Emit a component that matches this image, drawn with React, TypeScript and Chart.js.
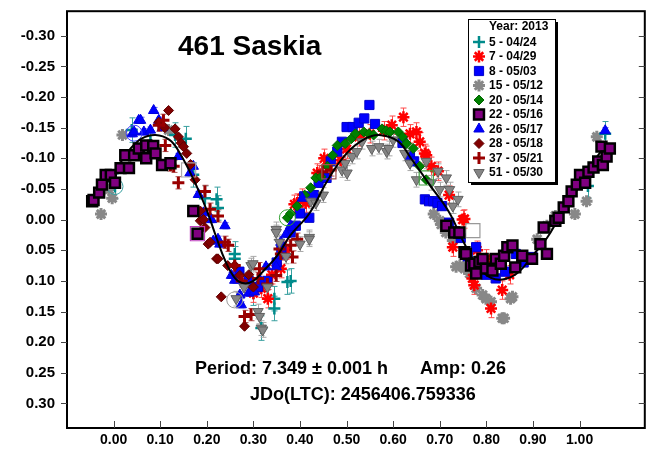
import React, { useEffect, useRef } from 'react';
import { Chart, registerables } from 'chart.js';
import { drawPoint } from 'chart.js/helpers';

Chart.register(...registerables);

// ---------- DATA ----------
const xTickValues = [0.0, 0.1, 0.2, 0.3, 0.4, 0.5, 0.6, 0.7, 0.8, 0.9, 1.0];
const yTickValues = [-0.3, -0.25, -0.2, -0.15, -0.1, -0.05, 0.0, 0.05, 0.1, 0.15, 0.2, 0.25, 0.3];

const titleText = '461 Saskia';
const periodText = 'Period: 7.349 \u00b1 0.001 h';
const ampText = 'Amp: 0.26';
const jdText = 'JDo(LTC): 2456406.759336';
const legendTitle = 'Year: 2013';

const seriesLabels = [
  '5 - 04/24', '7 - 04/29', '8 - 05/03', '15 - 05/12', '20 - 05/14',
  '22 - 05/16', '26 - 05/17', '28 - 05/18', '37 - 05/21', '51 - 05/30',
];
// constant error-bar half-length per series (mag)
const seriesErrors = [0.02, 0.015, 0, 0, 0, 0, 0.005, 0, 0.01, 0.012];

// [phase, mag]
const s05: number[][] = [
  [0.003, -0.054], [0.039, -0.146], [0.079, -0.127], [0.132, -0.138], [0.155, -0.132],
  [0.171, -0.073], [0.196, -0.035], [0.221, -0.033], [0.224, -0.019], [0.26, 0.056],
  [0.26, 0.064], [0.30, 0.12], [0.317, 0.177], [0.345, 0.129], [0.345, 0.145],
  [0.373, 0.102], [0.38, 0.1], [1.018, -0.055], [1.055, -0.14],
];
const s07: number[][] = [
  [0.288, 0.102], [0.30, 0.12], [0.317, 0.112], [0.331, 0.129], [0.34, 0.09], [0.359, 0.08],
  [0.37, 0.05], [0.388, -0.025], [0.394, -0.027], [0.405, -0.035], [0.412, -0.027],
  [0.437, -0.076], [0.441, -0.073], [0.452, -0.1], [0.46, -0.09], [0.487, -0.097],
  [0.5, -0.115], [0.526, -0.135], [0.55, -0.14], [0.58, -0.145], [0.597, -0.154],
  [0.622, -0.167], [0.636, -0.14], [0.65, -0.143], [0.657, -0.127], [0.668, -0.108],
  [0.671, -0.105], [0.682, -0.087], [0.696, -0.079], [0.72, -0.04], [0.728, 0.045],
  [0.749, 0.0], [0.753, -0.001], [0.77, 0.096], [0.774, 0.107], [0.78, 0.05],
  [0.8, 0.064], [0.81, 0.145], [0.834, 0.115], [0.85, 0.09],
];
const s08: number[][] = [
  [0.27, 0.085], [0.29, 0.1], [0.31, 0.11], [0.33, 0.1], [0.35, 0.07], [0.36, 0.05],
  [0.38, 0.021], [0.391, 0.01], [0.4, -0.01], [0.409, -0.038], [0.42, -0.003],
  [0.43, -0.04], [0.44, -0.06], [0.457, -0.068], [0.466, -0.095], [0.48, -0.111],
  [0.49, -0.127], [0.5, -0.151], [0.513, -0.151], [0.526, -0.158], [0.538, -0.165],
  [0.549, -0.187], [0.561, -0.156], [0.62, -0.125], [0.636, -0.105], [0.645, -0.095],
  [0.668, -0.033], [0.677, -0.03], [0.686, -0.03], [0.695, -0.027], [0.705, -0.022],
  [0.72, 0.005], [0.745, 0.03], [0.76, 0.06], [0.778, 0.045], [0.79, 0.08], [0.8, 0.09],
  [0.82, 0.096], [0.84, 0.085], [0.863, 0.056], [0.88, 0.07], [0.899, 0.061],
];
const s15: number[][] = [
  [-0.027, -0.009], [-0.01, -0.049], [-0.003, -0.035], [0.019, -0.138], [0.118, -0.146],
  [0.687, -0.009], [0.7, 0.002], [0.703, 0.008], [0.713, 0.021], [0.728, 0.034],
  [0.735, 0.077], [0.743, 0.075], [0.753, 0.08], [0.764, 0.088], [0.778, 0.112],
  [0.792, 0.123], [0.799, 0.129], [0.81, 0.134], [0.834, 0.161], [0.838, 0.161],
  [0.852, 0.129], [0.856, 0.126], [0.909, 0.032], [0.93, 0.01], [0.948, -0.006],
  [0.99, -0.009], [1.015, -0.03], [1.037, -0.135],
];
const s20: number[][] = [
  [0.373, -0.003], [0.38, -0.01], [0.394, -0.022], [0.41, -0.04], [0.423, -0.052],
  [0.434, -0.068], [0.445, -0.07], [0.459, -0.087], [0.47, -0.105], [0.48, -0.121],
  [0.497, -0.124], [0.51, -0.132], [0.519, -0.14], [0.537, -0.143], [0.548, -0.14],
  [0.558, -0.138], [0.576, -0.148], [0.585, -0.145], [0.593, -0.143], [0.611, -0.143],
  [0.62, -0.135], [0.629, -0.124], [0.643, -0.116], [0.657, -0.087], [0.671, -0.065],
];
const s22: number[][] = [
  [-0.046, -0.03], [-0.043, -0.032], [-0.031, -0.044], [-0.025, -0.057], [-0.017, -0.073],
  [-0.006, -0.073], [0.003, -0.06], [0.015, -0.084], [0.025, -0.105], [0.033, -0.084],
  [0.044, -0.105], [0.054, -0.116], [0.07, -0.1], [0.07, -0.121], [0.085, -0.12],
  [0.09, -0.108], [0.104, -0.089], [0.122, -0.092], [0.171, -0.014], [0.18, 0.023],
  [0.714, 0.01], [0.731, 0.021], [0.742, 0.021], [0.753, 0.053], [0.756, 0.056],
  [0.767, 0.075], [0.774, 0.072], [0.778, 0.088], [0.785, 0.069], [0.792, 0.064],
  [0.799, 0.08], [0.813, 0.083], [0.82, 0.064], [0.831, 0.072], [0.838, 0.059],
  [0.845, 0.045], [0.856, 0.042], [0.862, 0.078], [0.877, 0.059], [0.898, 0.064],
  [0.916, 0.04], [0.923, 0.013], [0.93, 0.056], [0.948, 0.002], [0.955, -0.003],
  [0.966, -0.02], [0.976, -0.03], [0.983, -0.046], [0.994, -0.057], [1.001, -0.073],
  [1.012, -0.06], [1.019, -0.078], [1.03, -0.085], [1.04, -0.095], [1.05, -0.089],
  [1.047, -0.119], [1.058, -0.103], [1.065, -0.116],
];
const s26: number[][] = [
  [0.04, -0.14], [0.044, -0.143], [0.054, -0.162], [0.058, -0.162], [0.065, -0.143],
  [0.079, -0.146], [0.086, -0.178], [0.097, -0.162], [0.105, -0.15], [0.139, -0.103],
  [0.164, -0.076], [0.171, -0.087], [0.182, -0.041], [0.193, -0.011], [0.21, 0.0],
  [0.214, 0.035], [0.224, 0.032], [0.228, 0.04], [0.239, 0.01], [0.253, 0.091],
  [0.26, 0.099], [0.271, 0.123], [0.274, 0.139], [0.29, 0.12], [0.302, 0.118],
  [0.315, 0.1], [0.327, 0.077], [0.349, 0.077], [0.356, 0.059], [0.359, 0.037],
  [0.37, 0.024], [0.38, 0.01], [0.384, 0.013], [0.405, -0.035], [1.055, -0.145],
];
const s28: number[][] = [
  [0.097, -0.159], [0.11, -0.15], [0.118, -0.178], [0.132, -0.148], [0.139, -0.135],
  [0.145, -0.125], [0.15, -0.119], [0.157, -0.108], [0.165, -0.09], [0.175, -0.065],
  [0.186, -0.014], [0.186, 0.002], [0.193, 0.0], [0.196, 0.013], [0.203, 0.04],
  [0.207, 0.037], [0.221, 0.064], [0.224, 0.064], [0.231, 0.126], [0.245, 0.075],
  [0.26, 0.075], [0.271, 0.091], [0.281, 0.174], [0.29, 0.09], [0.3, 0.11],
];
const s37: number[][] = [
  [0.097, -0.154], [0.107, -0.162], [0.111, -0.121], [0.122, -0.089], [0.129, -0.087],
  [0.139, -0.06], [0.196, -0.046], [0.207, -0.017], [0.224, -0.006], [0.239, 0.037],
  [0.246, 0.042], [0.26, 0.075], [0.275, 0.1], [0.281, 0.158], [0.295, 0.155],
  [0.31, 0.096], [0.313, 0.08], [0.33, 0.105], [0.349, 0.091], [0.356, 0.048],
  [0.359, 0.056], [0.38, 0.042], [0.384, 0.061], [0.394, 0.032], [0.448, -0.078],
  [0.466, -0.081],
];
const s51: number[][] = [
  [0.263, 0.129], [0.28, 0.11], [0.295, 0.075], [0.299, 0.072], [0.31, 0.15],
  [0.313, 0.158], [0.317, 0.177], [0.32, 0.18], [0.33, 0.11], [0.349, 0.016],
  [0.349, 0.021], [0.356, 0.037], [0.37, 0.06], [0.4, 0.04], [0.42, 0.029],
  [0.42, 0.032], [0.423, -0.03], [0.434, -0.027], [0.45, -0.04], [0.49, -0.081],
  [0.497, -0.092], [0.501, -0.076], [0.512, -0.103], [0.522, -0.111], [0.533, -0.127],
  [0.554, -0.116], [0.569, -0.119], [0.586, -0.111], [0.59, -0.116], [0.6, -0.13],
  [0.625, -0.108], [0.636, -0.092], [0.65, -0.065], [0.671, -0.095], [0.682, -0.06],
  [0.696, -0.079], [0.7, -0.049], [0.714, -0.068], [0.721, -0.049], [0.728, -0.022],
  [0.739, -0.033],
];
// fitted Fourier curve
const fitCurve: number[][] = [
  [-0.05, -0.025], [0.0, -0.075], [0.03, -0.11], [0.06, -0.132], [0.09, -0.138],
  [0.12, -0.13], [0.14, -0.111], [0.17, -0.068], [0.2, -0.015], [0.22, 0.028],
  [0.24, 0.068], [0.26, 0.095], [0.28, 0.104], [0.3, 0.1], [0.32, 0.085],
  [0.35, 0.06], [0.38, 0.025], [0.42, -0.01], [0.46, -0.065], [0.5, -0.108],
  [0.54, -0.132], [0.57, -0.138], [0.61, -0.128], [0.64, -0.098], [0.68, -0.055],
  [0.72, -0.012], [0.75, 0.035], [0.78, 0.075], [0.81, 0.095], [0.84, 0.097],
  [0.87, 0.085], [0.9, 0.058], [0.93, 0.03], [0.96, -0.008], [1.0, -0.055],
  [1.03, -0.095], [1.05, -0.115],
];
// outlined (session-start) markers: circles and squares
const circleMarks: number[][] = [[0.003, -0.054], [0.044, -0.141], [0.373, -0.003], [0.26, 0.131]];
const circleColors = ['#3aa0a0', '#4040ff', '#30a030', '#999999'];
const squareMarks: number[][] = [[0.18, 0.023], [0.462, -0.078], [0.161, -0.081], [0.771, 0.018], [0.671, -0.068]];
const squareColors = ['#c040c0', '#a05050', '#aaaaaa', '#999999', '#40a040'];

const seriesData = [s05, s07, s08, s15, s20, s22, s26, s28, s37, s51];

// ---------- STYLES ----------
const FONT = '"Liberation Sans", Arial, Helvetica, sans-serif';
type Sty = { style: string; radius: number; rotation: number; bg: string; border: string; bw: number; err: string; order: number };
const styles: Sty[] = [
  { style: 'cross', radius: 6, rotation: 0, bg: '#008b8b', border: '#008b8b', bw: 2.5, err: '#3aa0a0', order: 10 },
  { style: 'star', radius: 6, rotation: 0, bg: '#ff0000', border: '#ff0000', bw: 2.5, err: '#ff4a4a', order: 9 },
  { style: 'rect', radius: 6.5, rotation: 0, bg: '#0000ff', border: '#0000cc', bw: 1, err: '#4040ff', order: 8 },
  { style: 'star', radius: 6, rotation: 0, bg: '#888888', border: '#888888', bw: 3, err: '#999999', order: 11 },
  { style: 'rectRot', radius: 5, rotation: 0, bg: '#008000', border: '#006400', bw: 1, err: '#40a040', order: 7 },
  { style: 'rect', radius: 7, rotation: 0, bg: '#800080', border: '#000000', bw: 2.5, err: '#800080', order: 0 },
  { style: 'triangle', radius: 6, rotation: 0, bg: '#0000ff', border: '#0000dd', bw: 1, err: '#5050ff', order: 6 },
  { style: 'rectRot', radius: 5, rotation: 0, bg: '#800000', border: '#600000', bw: 1, err: '#a04040', order: 5 },
  { style: 'cross', radius: 6, rotation: 0, bg: '#990000', border: '#990000', bw: 3, err: '#b05050', order: 4 },
  { style: 'triangle', radius: 6, rotation: 180, bg: '#858585', border: '#606060', bw: 1, err: '#a8a8a8', order: 3 },
];

const overlayPlugin = {
  id: 'overlay',
  beforeDatasetsDraw(chart: any) {
    const ctx = chart.ctx;
    const ys = chart.scales.y;
    ctx.save();
    seriesData.forEach((_, i) => {
      const e = seriesErrors[i];
      if (!e) return;
      const meta = chart.getDatasetMeta(i);
      ctx.strokeStyle = styles[i].err;
      ctx.lineWidth = 1;
      meta.data.forEach((pt: any, j: number) => {
        const v = seriesData[i][j][1];
        const y1 = ys.getPixelForValue(v - e);
        const y2 = ys.getPixelForValue(v + e);
        const x = Math.round(pt.x) + 0.5;
        ctx.beginPath();
        ctx.moveTo(x, y1); ctx.lineTo(x, y2);
        ctx.moveTo(x - 3, y1); ctx.lineTo(x + 3, y1);
        ctx.moveTo(x - 3, y2); ctx.lineTo(x + 3, y2);
        ctx.stroke();
      });
    });
    ctx.restore();
  },
  afterDraw(chart: any) {
    const ctx = chart.ctx;
    const a = chart.chartArea;
    const xs = chart.scales.x;
    const ys = chart.scales.y;
    ctx.save();
    // frame
    ctx.strokeStyle = '#000';
    ctx.lineWidth = 2;
    ctx.strokeRect(a.left, a.top, a.right - a.left, a.bottom - a.top);
    // ticks
    ctx.lineWidth = 1;
    ctx.strokeStyle = '#444';
    ctx.beginPath();
    xTickValues.forEach((v) => {
      const x = Math.round(xs.getPixelForValue(v)) + 0.5;
      ctx.moveTo(x, a.bottom); ctx.lineTo(x, a.bottom - 7);
    });
    yTickValues.forEach((v) => {
      const y = Math.round(ys.getPixelForValue(v)) + 0.5;
      ctx.moveTo(a.left - 6, y); ctx.lineTo(a.left, y);
      ctx.moveTo(a.right, y); ctx.lineTo(a.right - 6, y);
    });
    ctx.stroke();

    // texts
    ctx.fillStyle = '#000';
    ctx.textBaseline = 'alphabetic';
    ctx.textAlign = 'left';
    ctx.font = `bold 28px ${FONT}`;
    ctx.fillText(titleText, 178, 55);
    ctx.font = `bold 18px ${FONT}`;
    ctx.fillText(periodText, 195, 374);
    ctx.textAlign = 'right';
    ctx.fillText(ampText, 506, 374);
    ctx.textAlign = 'left';
    ctx.fillText(jdText, 250, 400);

    // legend
    const lx = 468, ly = 19, lw = 87, lh = 163;
    ctx.fillStyle = '#000';
    ctx.fillRect(lx + 3, ly + 3, lw, lh);
    ctx.fillStyle = '#fff';
    ctx.fillRect(lx, ly, lw, lh);
    ctx.strokeStyle = '#000';
    ctx.lineWidth = 1;
    ctx.strokeRect(lx + 0.5, ly + 0.5, lw, lh);
    ctx.fillStyle = '#000';
    ctx.font = `bold 12px ${FONT}`;
    ctx.textBaseline = 'middle';
    ctx.textAlign = 'left';
    ctx.fillText(legendTitle, 489, 27);
    seriesLabels.forEach((lab, i) => {
      const y = 42 + i * 14.5;
      const s = styles[i];
      ctx.fillStyle = s.bg;
      ctx.strokeStyle = s.border;
      ctx.lineWidth = s.bw;
      drawPoint(ctx, { pointStyle: s.style, radius: s.radius, rotation: s.rotation, borderWidth: s.bw } as any, 479, y);
      ctx.fillStyle = '#000';
      ctx.fillText(lab, 489, y + 0.5);
    });
    ctx.restore();
  },
};

export default function App() {
  const ref = useRef<HTMLCanvasElement | null>(null);
  useEffect(() => {
    if (!ref.current) return;
    const datasets: any[] = seriesData.map((d, i) => {
      const s = styles[i];
      return {
        type: 'scatter',
        label: seriesLabels[i],
        data: d.map((p) => ({ x: p[0], y: p[1] })),
        pointStyle: s.style,
        pointRadius: s.radius,
        pointRotation: s.rotation,
        backgroundColor: s.bg,
        borderColor: s.border,
        borderWidth: s.bw,
        order: s.order,
      };
    });
    datasets.push({
      type: 'line',
      label: 'fit',
      data: fitCurve.map((p) => ({ x: p[0], y: p[1] })),
      borderColor: '#000',
      borderWidth: 2,
      pointRadius: 0,
      tension: 0.4,
      fill: false,
      order: 1,
    });
    datasets.push({
      type: 'scatter',
      label: 'first-circles',
      data: circleMarks.map((p) => ({ x: p[0], y: p[1] })),
      pointStyle: 'circle',
      pointRadius: 8,
      backgroundColor: 'rgba(0,0,0,0)',
      borderColor: circleColors,
      borderWidth: 1,
      order: 2,
    });
    datasets.push({
      type: 'scatter',
      label: 'first-squares',
      data: squareMarks.map((p) => ({ x: p[0], y: p[1] })),
      pointStyle: 'rect',
      pointRadius: 10,
      backgroundColor: 'rgba(0,0,0,0)',
      borderColor: squareColors,
      borderWidth: 1.2,
      order: 2,
    });
    const chart = new Chart(ref.current, {
      type: 'scatter',
      data: { datasets },
      options: {
        responsive: false,
        animation: false,
        devicePixelRatio: 1,
        layout: { padding: { top: 8, right: 6, left: 0, bottom: 0 } },
        plugins: { legend: { display: false }, tooltip: { enabled: false } },
        scales: {
          x: {
            type: 'linear',
            min: -0.1,
            max: 1.14,
            grid: { display: false, drawTicks: false },
            border: { display: false },
            afterBuildTicks: (sc: any) => { sc.ticks = xTickValues.map((v) => ({ value: v })); },
            afterFit: (sc: any) => { sc.height = 22; sc.paddingLeft = 0; sc.paddingRight = 0; },
            ticks: {
              autoSkip: false, maxRotation: 0, padding: 4, color: '#000',
              font: { family: FONT, size: 14, weight: 'bold' },
              callback: (v: any) => Number(v).toFixed(2),
            },
          },
          y: {
            type: 'linear',
            reverse: true,
            min: -0.34,
            max: 0.34,
            grid: { display: false, drawTicks: false },
            border: { display: false },
            afterBuildTicks: (sc: any) => { sc.ticks = yTickValues.map((v) => ({ value: v })); },
            afterFit: (sc: any) => { sc.width = 67; sc.paddingTop = 0; sc.paddingBottom = 0; },
            ticks: {
              autoSkip: false, padding: 12, color: '#000',
              font: { family: FONT, size: 15, weight: 'bold' },
              callback: (v: any) => Number(v).toFixed(2),
            },
          },
        },
      } as any,
      plugins: [overlayPlugin],
    });
    return () => chart.destroy();
  }, []);
  return (
    <div style={{ position: 'fixed', left: 0, top: 0, width: 656, height: 450, background: '#fff' }}>
      <canvas ref={ref} width={656} height={450} style={{ display: 'block' }} />
    </div>
  );
}
